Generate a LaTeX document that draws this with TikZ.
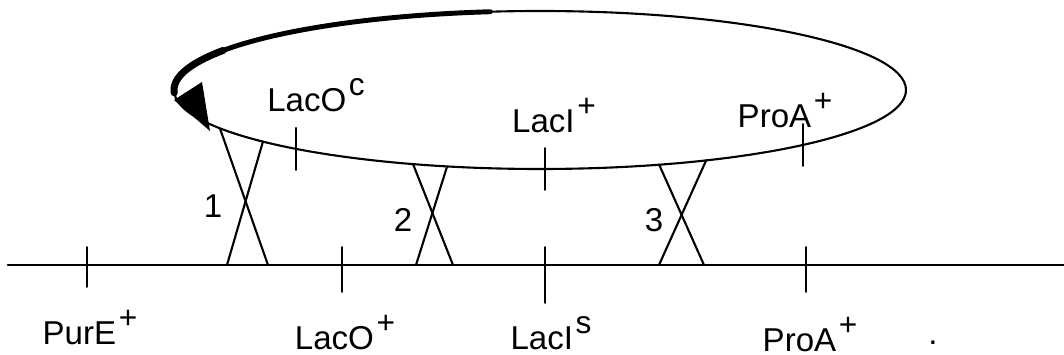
\documentclass[tikz,border=0pt]{standalone}
\usepackage{fontspec}
\setmainfont{Liberation Sans}
\newcommand{\up}[1]{\hspace{.08em}\raisebox{.5em}{\small #1}}

\begin{document}
\begin{tikzpicture}[x=.01cm, y=.01cm, font=\fontsize{9.4}{11}\selectfont, line join=round, line cap=round]
	\tikzset{
	locus/.style={line width=.5pt},
	xover/.style={line width=.6pt},
	lbl/.style={anchor=base, inner sep=0pt}
	}
	\useasboundingbox (0,0) rectangle (1064,-355);
	% plasmid with its direction
	\begin{scope}[shift={(540,-90)}]
		\draw[line width=.6pt] (0,0) ellipse [x radius=366, y radius=79];
		\draw[line width=1.4pt] (97.8:366 and 79) arc [start angle=97.8, end angle=181, x radius=366, y radius=79];
		\draw[line width=2pt] (150:366 and 79) arc [start angle=150, end angle=182, x radius=366, y radius=79];
		\foreach \ang/\nm in {209/pa1, 220.8/pb1, 249.7/pa2, 255.3/pb2, 289/pa3, 297/pb3, 228.2/tLacO, 270.8/tLacI, 315.9/tProA}
		\coordinate (\nm) at (\ang:366 and 79);
	\end{scope}
	\coordinate (tip) at (210,-131);
	\fill (174,-100) -- (202,-82) -- (tip) -- cycle;
	% chromosome
	\draw[line width=.85pt] (8,-265) coordinate (cL) -- (1064,-265) coordinate (cR);
	\foreach \x/\nm in {268/ca1, 227/cb1, 453/ca2, 416/cb2, 704/ca3, 659/cb3, 87/gPurE, 342/gLacO, 545/gLacI, 806/gProA}
	\coordinate (\nm) at (\x,-265);
	% crossovers
	\foreach \i in {1,2,3}{
		\draw[xover] (pa\i) -- (ca\i);
		\draw[xover] (pb\i) -- (cb\i);
	}
	% loci
	\foreach \t in {tLacO,tLacI,tProA}
	\draw[locus] (\t) ++(0,21) -- ++(0,-42);
	\foreach \t/\d in {gPurE/40, gLacO/45, gLacI/56, gProA/45}
	\draw[locus] (\t) ++(0,18) -- ++(0,-\d);
	\node[lbl] (lacOc) at (316,-112) {LacO\up{c}};
	\node[lbl] (lacIp) at (554,-133) {LacI\up{+}};
	\node[lbl] (proAp) at (785,-128) {ProA\up{+}};
	\node[lbl] (n1) at (213,-218) {1};
	\node[lbl] (n2) at (403,-232) {2};
	\node[lbl] (n3) at (654,-232) {3};
	\node[lbl] (purE) at (90,-345) {PurE\up{+}};
	\node[lbl] (lacOw) at (345,-350) {LacO\up{+}};
	\node[lbl] (lacIs) at (551,-350) {LacI\up{s}};
	\node[lbl] (proAw) at (810,-352) {ProA\up{+}};
	\node[lbl] (dot) at (933,-345) {.};
\end{tikzpicture}
\end{document}
